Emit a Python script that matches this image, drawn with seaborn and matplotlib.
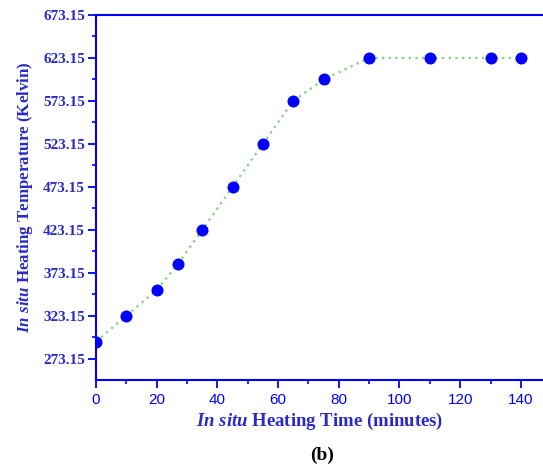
import matplotlib
matplotlib.use("Agg")
import matplotlib.pyplot as plt
import seaborn as sns
import pandas as pd
from matplotlib.ticker import MultipleLocator, FixedLocator

sns.set_style("white")
plt.rcParams['mathtext.fontset'] = 'custom'
plt.rcParams['mathtext.it'] = 'Liberation Serif:italic:bold'
plt.rcParams['mathtext.rm'] = 'Liberation Serif:bold'

time_min = [0, 10, 20, 27, 35, 45, 55, 65, 75, 90, 110, 130, 140]
temp_k = [293.15, 323.15, 353.15, 383.15, 423.15, 473.15, 523.15, 573.15,
          598.15, 623.15, 623.15, 623.15, 623.15]
yticks = [273.15, 323.15, 373.15, 423.15, 473.15, 523.15, 573.15, 623.15, 673.15]
xticks = [0, 20, 40, 60, 80, 100, 120, 140]

df = pd.DataFrame({"t": time_min, "T": temp_k})

fig = plt.figure(figsize=(5.43, 4.70), dpi=100)
ax = fig.add_axes([96/543, 1-380/470, 1-96/543, (380-15)/470])

sns.lineplot(data=df, x="t", y="T", ax=ax, color="#7fd07f", linestyle=(0, (1, 2)),
             linewidth=1.6, zorder=1)
sns.scatterplot(data=df, x="t", y="T", ax=ax, color="#0000ff", s=75,
                edgecolor="#0000ff", linewidth=0, zorder=3)

ax.set_xlim(0, 147.3)
ax.set_ylim(248.4, 673.15)
ax.yaxis.set_major_locator(FixedLocator(yticks))
ax.yaxis.set_minor_locator(FixedLocator([y + 25 for y in yticks[:-1]] + [248.15]))
ax.xaxis.set_major_locator(FixedLocator(xticks))
ax.xaxis.set_minor_locator(MultipleLocator(10))

blue = "#0000ff"
label_blue = "#2a2ac8"
for s in ["left", "bottom", "top"]:
    ax.spines[s].set_color(blue)
    ax.spines[s].set_linewidth(1.5)
ax.spines["right"].set_visible(False)

ax.tick_params(axis="both", which="major", direction="out", length=6, width=1.3,
               color=blue, left=True, bottom=True)
ax.tick_params(axis="both", which="minor", direction="out", length=3, width=1.2,
               color=blue, left=True, bottom=True)
ax.tick_params(axis="y", which="major", pad=2)
ax.set_yticklabels([f"{v:.2f}" for v in yticks], fontfamily="Liberation Serif",
                   fontweight="bold", fontsize=11, color=label_blue)
ax.set_xticklabels([str(v) for v in xticks], fontfamily="Liberation Sans",
                   fontsize=11, color=blue)

ax.set_xlabel(r"$\mathit{In\ situ}$ Heating Time (minutes)", fontfamily="Liberation Serif",
              fontweight="bold", fontsize=13.5, color=label_blue, labelpad=3)
ax.set_ylabel(r"$\mathit{In\ situ}$ Heating Temperature (Kelvin)", fontfamily="Liberation Serif",
              fontweight="bold", fontsize=12.2, color=label_blue, labelpad=6)

fig.text(322/543, 1-455/470, "(b)", fontfamily="Liberation Serif", fontweight="bold",
         fontsize=14, color="black", ha="center", va="center")

fig.savefig("out.png", dpi=100)
